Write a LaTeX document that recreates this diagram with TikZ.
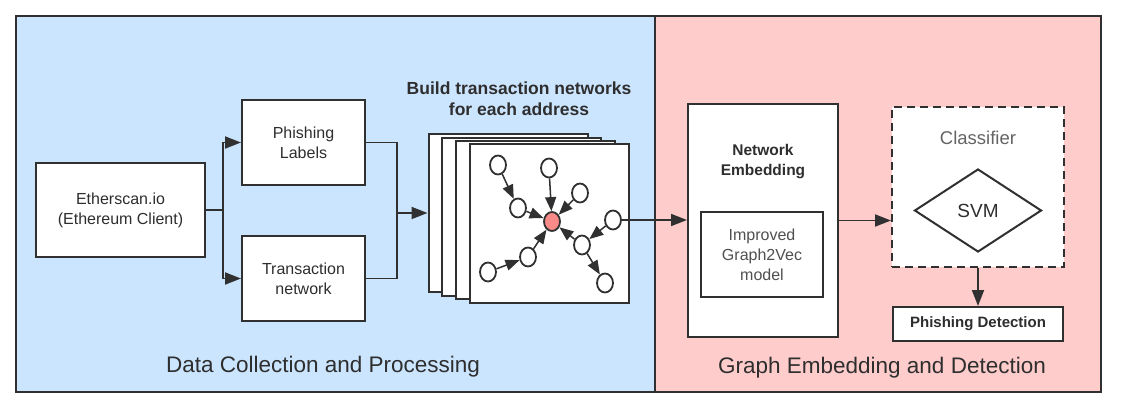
\documentclass[tikz,border=0pt]{standalone}
\usepackage{fontspec}
\setmainfont{Liberation Sans}
\usetikzlibrary{arrows.meta,shapes.geometric}
\definecolor{bluebg}{HTML}{CCE5FF}
\definecolor{pinkbg}{HTML}{FFCCCC}
\definecolor{edgec}{HTML}{303030}
\definecolor{txt}{HTML}{2E2E2E}
\definecolor{softtxt}{HTML}{505050}
\definecolor{greytxt}{HTML}{646464}
\definecolor{nodered}{HTML}{F88A8A}
\begin{document}
\begin{tikzpicture}[x=1pt,y=-1pt,
  panel/.style={draw=edgec,line width=2pt},
  box/.style={draw=edgec,line width=2pt,fill=white,inner sep=0pt,align=center,text=txt,
    font=\fontsize{16}{20}\selectfont},
  sheet/.style={draw=edgec,line width=2pt,fill=white,minimum width=159pt,minimum height=158pt,inner sep=0pt},
  conn/.style={draw=edgec,line width=1.8pt},
  arr/.style={conn,-{Triangle[length=16pt,width=12pt]}},
  gnode/.style={ellipse,draw=edgec,line width=1.8pt,fill=white,minimum width=16pt,minimum height=19pt,inner sep=0pt},
  garr/.style={draw=edgec,line width=1.5pt,-{Triangle[length=14pt,width=11pt]}},
  title/.style={text=txt,font=\fontsize{22.5}{27}\selectfont},
  btext/.style={text=txt,align=center,font=\bfseries\fontsize{15.5}{20}\selectfont}
]
\useasboundingbox (0,0) rectangle (1125,409);
\fill[white] (0,0) rectangle (1125,409);

% panels
\filldraw[panel,fill=bluebg] (16,16) rectangle (655,392);
\filldraw[panel,fill=pinkbg] (655,16) rectangle (1101,392);

\node[title] (t1) at (323,367) {Data Collection and Processing};
\node[title] (t2) at (882,368) {Graph Embedding and Detection};

% left part
\node[box,minimum width=169pt,minimum height=94pt] (eth) at (120.5,210) {Etherscan.io\\(Ethereum Client)};
\node[box,minimum width=123pt,minimum height=85pt] (phl) at (303.5,142.5) {Phishing\\Labels};
\node[box,minimum width=123pt,minimum height=85pt] (trn) at (303.5,278.5) {Transaction\\network};

\coordinate (split) at (223,210);
\coordinate (merge) at (397,213);
\draw[conn] (eth.east) -- (split);
\draw[arr] (split) |- (phl.west);
\draw[arr] (split) |- (trn.west);
\draw[conn] (phl.east) -| (merge);
\draw[conn] (trn.east) -| (merge);

\node[btext,font=\bfseries\fontsize{17.5}{21}\selectfont] (build) at (519,98.5) {Build transaction networks\\for each address};

% stack of sheets
\node[sheet] (s1) at (508,213) {};
\node[sheet] (s2) at (521.5,217) {};
\node[sheet] (s3) at (535,220) {};
\node[sheet] (s4) at (549.5,223.5) {};
\draw[arr] (merge) -- (s1.west);

% graph
\node[gnode,fill=nodered] (c) at (552,221.5) {};
\node[gnode] (n1) at (498,165) {};
\node[gnode] (n2) at (518,208) {};
\node[gnode] (n3) at (549,168) {};
\node[gnode] (n4) at (580,193) {};
\node[gnode] (n5) at (613,220) {};
\node[gnode] (n6) at (582,245) {};
\node[gnode] (n7) at (605,283) {};
\node[gnode] (n8) at (528,257) {};
\node[gnode] (n9) at (488,272) {};
\draw[garr] (n1) -- (n2);
\draw[garr] (n2) -- (c);
\draw[garr] (n3) -- (c);
\draw[garr] (n4) -- (c);
\draw[garr] (n6) -- (c);
\draw[garr] (n5) -- (n6);
\draw[garr] (n6) -- (n7);
\draw[garr] (n9) -- (n8);
\draw[garr] (n8) -- (c);

% right part
\node[box,minimum width=150pt,minimum height=233pt] (ne) at (763,220.5) {};
\node[btext] (nelbl) at (763,161.5) {Network\\Embedding};
\node[box,minimum width=122pt,minimum height=85pt,text=softtxt] (g2v) at (762,254.5) {Improved\\Graph2Vec\\model};
\draw[arr] (n5.east) -- (n5.east -| ne.west);

\node[draw=edgec,line width=2pt,dashed,dash pattern=on 8pt off 5pt,fill=white,minimum width=172pt,minimum height=160pt] (cls) at (978,187) {};
\node[text=greytxt,font=\fontsize{18.5}{22}\selectfont] (clslbl) at (978,138) {Classifier};
\node[diamond,draw=edgec,line width=2pt,fill=white,minimum width=127pt,minimum height=83pt,inner sep=0pt,text=txt,font=\fontsize{19}{22}\selectfont] (svm) at (978,210.5) {SVM};
\draw[arr] (ne.east) -- (ne.east -| cls.west);

\node[box,minimum width=170pt,minimum height=34pt,font=\bfseries\fontsize{15}{18}\selectfont] (pd) at (978,324) {Phishing Detection};
\draw[arr] (cls.south) -- (pd.north);
\end{tikzpicture}
\end{document}
